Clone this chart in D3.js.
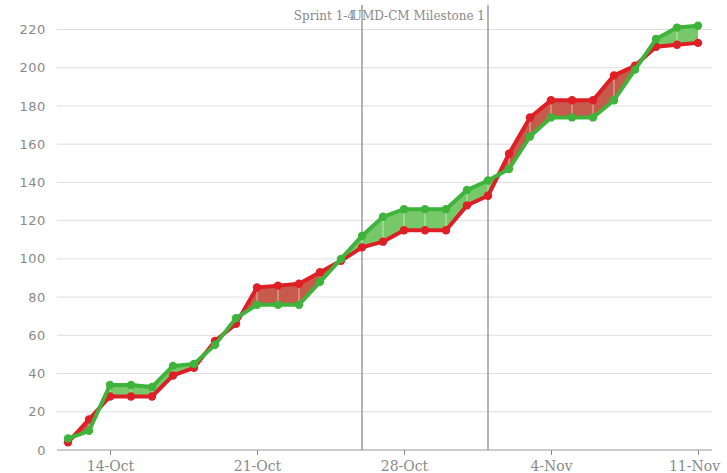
<!DOCTYPE html>
<html>
<head>
<meta charset="utf-8">
<script src="https://cdn.jsdelivr.net/npm/d3@7"></script>
<style>
  body { margin: 0; background: #fff; }
</style>
</head>
<body>
<div id="chart"></div>
<script>
// 0. Size of the SVG
const width = 727;
const height = 473;

// Data (one value per day, 12-Oct .. 11-Nov)
const dates = [
  "2013-10-12", "2013-10-13", "2013-10-14", "2013-10-15", "2013-10-16",
  "2013-10-17", "2013-10-18", "2013-10-19", "2013-10-20", "2013-10-21",
  "2013-10-22", "2013-10-23", "2013-10-24", "2013-10-25", "2013-10-26",
  "2013-10-27", "2013-10-28", "2013-10-29", "2013-10-30", "2013-10-31",
  "2013-11-01", "2013-11-02", "2013-11-03", "2013-11-04", "2013-11-05",
  "2013-11-06", "2013-11-07", "2013-11-08", "2013-11-09", "2013-11-10",
  "2013-11-11",
];
const redValues = [
  4, 16, 28, 28, 28, 39, 43, 57, 66, 85,
  86, 87, 93, 99, 106, 109, 115, 115, 115, 128,
  133, 155, 174, 183, 183, 183, 196, 201, 211, 212,
  213,
];
const greenValues = [
  6, 10, 34, 34, 33, 44, 45, 55, 69, 76,
  76, 76, 88, 100, 112, 122, 126, 126, 126, 136,
  141, 147, 164, 174, 174, 174, 183, 199, 215, 221,
  222,
];
const tickDates = ["2013-10-14", "2013-10-21", "2013-10-28", "2013-11-04", "2013-11-11"];
const yTicks = [0, 20, 40, 60, 80, 100, 120, 140, 160, 180, 200, 220];
const markerDates = ["2013-10-26", "2013-11-01"];
const markerLabels = ["Sprint 1-4", "UMD-CM Milestone 1"];

const parse = d3.utcParse("%Y-%m-%d");
const data = dates.map((d, i) => ({
  date: parse(d),
  red: redValues[i],
  green: greenValues[i],
}));

// 1. Scales
const x = d3
  .scaleUtc()
  .domain([parse(dates[0]), parse(dates[dates.length - 1])])
  .range([68, 698]);

const y = d3.scaleLinear().domain([0, 220]).range([450, 29.5]);

const plotLeft = 57;
const plotRight = 712;

const svg = d3
  .select("#chart")
  .append("svg")
  .attr("width", width)
  .attr("height", height);

// 2. Grid lines and y labels
svg
  .append("g")
  .selectAll("line")
  .data(yTicks.filter((t) => t > 0))
  .enter()
  .append("line")
  .attr("x1", plotLeft)
  .attr("x2", plotRight)
  .attr("y1", (d) => y(d))
  .attr("y2", (d) => y(d))
  .attr("stroke", "#dedede")
  .attr("stroke-width", 1);

svg
  .append("g")
  .selectAll("text")
  .data(yTicks)
  .enter()
  .append("text")
  .attr("x", 46)
  .attr("y", (d) => y(d))
  .attr("dy", "0.35em")
  .attr("text-anchor", "end")
  .style("font-family", "DejaVu Sans")
  .style("font-size", "13px")
  .style("letter-spacing", "0.6px")
  .style("fill", "#8a8a8a")
  .text((d) => d);

// 3. X axis
const xAxis = svg
  .append("g")
  .attr("transform", `translate(0,${y(0)})`)
  .call(
    d3
      .axisBottom(x)
      .tickValues(tickDates.map(parse))
      .tickFormat(d3.utcFormat("%-d-%b"))
      .tickSizeOuter(0)
      .tickSize(5)
      .tickPadding(6)
  );
xAxis.select(".domain").remove();
xAxis.selectAll("line").attr("stroke", "#888");
xAxis
  .selectAll("text")
  .style("font-family", "DejaVu Serif")
  .style("font-size", "14px")
  .style("fill", "#8a8a8a");
xAxis.selectAll(".tick").filter((d, i) => i === tickDates.length - 1).select("text").attr("dx", "-4px");

svg
  .append("line")
  .attr("x1", plotLeft)
  .attr("x2", plotRight)
  .attr("y1", y(0))
  .attr("y2", y(0))
  .attr("stroke", "#999")
  .attr("stroke-width", 1.2);

// 4. Vertical milestone lines
markerDates.forEach((d, i) => {
  const mx = x(parse(d));
  svg
    .append("line")
    .attr("x1", mx)
    .attr("x2", mx)
    .attr("y1", 5)
    .attr("y2", y(0))
    .attr("stroke", "#8c8c8c")
    .attr("stroke-width", 1.3);
  svg
    .append("text")
    .attr("x", mx + (i === 0 ? -7 : -3))
    .attr("y", 20)
    .attr("text-anchor", "end")
    .style("font-family", "DejaVu Serif")
    .style("font-size", "12px")
    .style("fill", "#8a8a8a")
    .text(markerLabels[i]);
});

// 5. Fill between the two lines, segment by segment
const fills = svg.append("g");
for (let i = 0; i < data.length - 1; i++) {
  const a = data[i];
  const b = data[i + 1];
  const d0 = a.green - a.red;
  const d1 = b.green - b.red;
  const pieces = [];
  if (d0 * d1 < 0) {
    const t = d0 / (d0 - d1);
    const cx = x(a.date) + t * (x(b.date) - x(a.date));
    const cv = a.red + t * (b.red - a.red);
    pieces.push({ pts: [[x(a.date), y(a.red)], [cx, y(cv)], [x(a.date), y(a.green)]], diff: d0 });
    pieces.push({ pts: [[cx, y(cv)], [x(b.date), y(b.red)], [x(b.date), y(b.green)]], diff: d1 });
  } else {
    pieces.push({
      pts: [
        [x(a.date), y(a.red)],
        [x(b.date), y(b.red)],
        [x(b.date), y(b.green)],
        [x(a.date), y(a.green)],
      ],
      diff: d0 + d1,
    });
  }
  pieces.forEach((p) => {
    fills
      .append("path")
      .attr("d", "M" + p.pts.join("L") + "Z")
      .attr("fill", p.diff > 0 ? "#77c868" : "#c65b4c");
  });
}

// thin light seams at each day, like the reference
fills
  .selectAll("line")
  .data(data.slice(1, -1))
  .enter()
  .append("line")
  .attr("x1", (d) => x(d.date))
  .attr("x2", (d) => x(d.date))
  .attr("y1", (d) => y(d.red))
  .attr("y2", (d) => y(d.green))
  .attr("stroke", "rgba(255,255,255,0.55)")
  .attr("stroke-width", 1);

// 6. Lines and dots
const series = [
  { key: "red", color: "#de1f26" },
  { key: "green", color: "#3fb43c" },
];
series.forEach((s) => {
  const line = d3
    .line()
    .x((d) => x(d.date))
    .y((d) => y(d[s.key]));
  svg
    .append("path")
    .datum(data)
    .attr("d", line)
    .attr("fill", "none")
    .attr("stroke", s.color)
    .attr("stroke-width", 4)
    .attr("stroke-linejoin", "round");
  svg
    .append("g")
    .selectAll("circle")
    .data(data)
    .enter()
    .append("circle")
    .attr("cx", (d) => x(d.date))
    .attr("cy", (d) => y(d[s.key]))
    .attr("r", 4.2)
    .attr("fill", s.color);
});
</script>
</body>
</html>
